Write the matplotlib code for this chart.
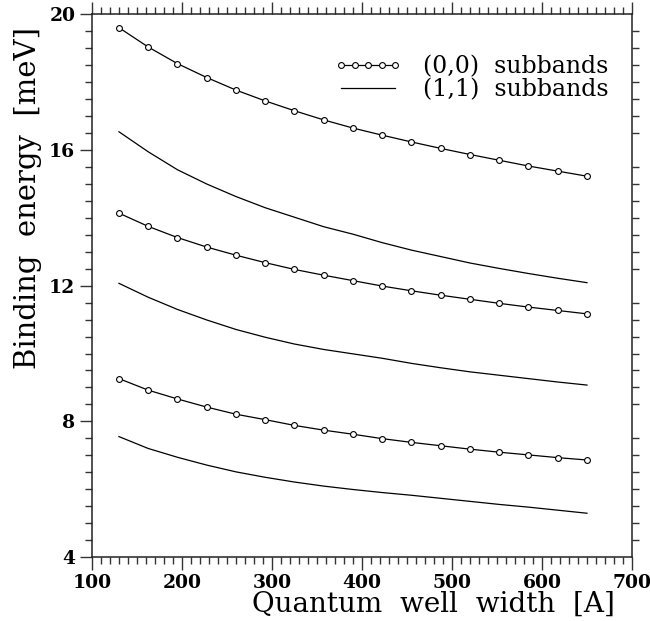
import matplotlib
matplotlib.use("Agg")
import matplotlib.pyplot as plt
from matplotlib.ticker import MultipleLocator
import numpy as np

# well widths (A)
width = [130, 162.5, 195, 227.5, 260, 292.5, 325, 357.5, 390, 422.5,
         455, 487.5, 520, 552.5, 585, 617.5, 650]

# (0,0) subbands, binding energy (meV)
e00_top = [19.61, 19.04, 18.55, 18.14, 17.77, 17.45, 17.16, 16.89, 16.65,
           16.44, 16.24, 16.05, 15.87, 15.70, 15.53, 15.38, 15.23]
e00_mid = [14.14, 13.75, 13.42, 13.14, 12.90, 12.68, 12.48, 12.31, 12.15,
           11.99, 11.85, 11.72, 11.60, 11.48, 11.37, 11.27, 11.17]
e00_bot = [9.26, 8.92, 8.66, 8.42, 8.21, 8.05, 7.88, 7.74, 7.62,
           7.49, 7.38, 7.28, 7.18, 7.09, 7.01, 6.93, 6.86]

# (1,1) subbands
e11_top = [16.54, 15.95, 15.42, 15.00, 14.63, 14.30, 14.02, 13.74, 13.52,
           13.27, 13.05, 12.86, 12.67, 12.51, 12.36, 12.22, 12.09]
e11_mid = [12.07, 11.66, 11.30, 10.99, 10.71, 10.48, 10.28, 10.12, 9.99,
           9.86, 9.71, 9.58, 9.46, 9.36, 9.26, 9.16, 9.07]
e11_bot = [7.55, 7.20, 6.94, 6.71, 6.51, 6.35, 6.21, 6.09, 5.99,
           5.90, 5.82, 5.73, 5.64, 5.55, 5.47, 5.38, 5.29]

plt.rcParams["font.family"] = "DejaVu Serif"

fig = plt.figure(figsize=(6.5, 6.21), dpi=100)
ax = fig.add_axes([0.1415, 0.1031, 0.8308, 0.8736])

mk = dict(color="black", lw=0.9, marker="o", ms=4.2, mfc="white", mew=0.8)
ax.plot(width, e00_top, label="(0,0)  subbands", **mk)
ax.plot(width, e00_mid, **mk)
ax.plot(width, e00_bot, **mk)

ax.plot(width, e11_top, color="black", lw=0.9, label="(1,1)  subbands")
ax.plot(width, e11_mid, color="black", lw=0.9)
ax.plot(width, e11_bot, color="black", lw=0.9)

ax.set_xlim(100, 700)
ax.set_ylim(4, 20)
ax.xaxis.set_major_locator(MultipleLocator(100))
ax.xaxis.set_minor_locator(MultipleLocator(10))
ax.yaxis.set_major_locator(MultipleLocator(4))
ax.yaxis.set_minor_locator(MultipleLocator(0.5))

for s in ax.spines.values():
    s.set_linewidth(1.1)
    s.set_color("#222222")

ax.tick_params(which="both", direction="out", top=True, right=True,
               color="#333333", width=1)
ax.tick_params(which="major", length=9, labelsize=13.5, pad=3)
ax.tick_params(which="minor", length=5)
ax.tick_params(axis="y", which="major", right=False)
for lab in ax.get_xticklabels() + ax.get_yticklabels():
    lab.set_fontweight("bold")

ax.set_xlabel("Quantum  well  width  [A]", fontsize=20, loc="right")
ax.xaxis.set_label_coords(0.969, -0.062)
ax.set_ylabel("Binding  energy  [meV]", fontsize=21, loc="top")
ax.yaxis.set_label_coords(-0.092, 0.976)

ax.legend(loc="upper right", bbox_to_anchor=(0.956, 0.925), frameon=False,
          fontsize=17, handlelength=2.9, handletextpad=0.85, labelspacing=0.0,
          numpoints=5, borderpad=0, borderaxespad=0)

fig.savefig("out.png", dpi=100)
